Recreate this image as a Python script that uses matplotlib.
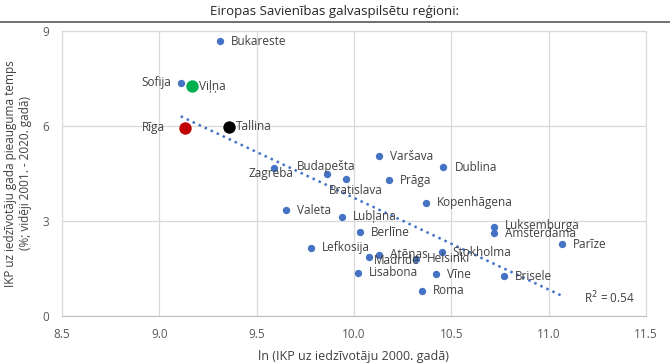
import numpy as np
from matplotlib import pyplot as plt

plt.rcParams['font.family'] = ['Open Sans', 'DejaVu Sans']

cities = ['Bukareste', 'Sofija', 'Viļņa', 'Rīga', 'Tallina', 'Zagreba', 'Budapešta',
          'Bratislava', 'Varšava', 'Dublina', 'Prāga', 'Kopenhāgena', 'Valeta', 'Lubļana',
          'Berlīne', 'Lefkosija', 'Atēnas', 'Madride', 'Helsinki', 'Stokholma', 'Lisabona',
          'Vīne', 'Roma', 'Luksemburga', 'Amsterdama', 'Parīze', 'Brisele']
gdp_2000 = [9.31, 9.11, 9.17, 9.13, 9.36, 9.59, 9.86,
            9.96, 10.13, 10.46, 10.18, 10.37, 9.65, 9.94,
            10.03, 9.78, 10.13, 10.08, 10.32, 10.45, 10.02,
            10.42, 10.35, 10.72, 10.72, 11.07, 10.77]
growth = [8.68, 7.36, 7.26, 5.94, 5.97, 4.68, 4.47,
          4.32, 5.05, 4.69, 4.29, 3.58, 3.34, 3.14,
          2.64, 2.15, 1.94, 1.85, 1.81, 2.01, 1.36,
          1.32, 0.80, 2.82, 2.61, 2.26, 1.26]

highlight = {'Viļņa': '#00B050', 'Rīga': '#C00000', 'Tallina': '#000000'}
# label offsets in points (dx, dy, ha)
label_pos = {'Sofija': (-7, 0, 'right'), 'Rīga': (-14, 0, 'right'),
             'Zagreba': (-2, -4, 'center'), 'Budapešta': (0, 6, 'center'),
             'Bratislava': (7, -8, 'center'), 'Viļņa': (5, 0, 'left'),
             'Tallina': (5, 0, 'left'), 'Madride': (3, -2, 'left'),
             'Luksemburga': (8, 1, 'left')}

fig = plt.figure(figsize=(6.7, 3.63), dpi=100)
ax = fig.add_axes([0.0925, 0.1295, 0.8715, 0.7851])

txt = '#404040'
for c, x, y in zip(cities, gdp_2000, growth):
    if c in highlight:
        ax.scatter(x, y, s=80, color=highlight[c], zorder=4, linewidths=0)
    else:
        ax.scatter(x, y, s=28, color='#4472C4', zorder=4, linewidths=0)
    dx, dy, ha = label_pos.get(c, (8, 0, 'left'))
    ax.annotate(c, (x, y), xytext=(dx, dy), textcoords='offset points',
                ha=ha, va='center', fontsize=8.5, color=txt, zorder=5)

k, b = np.polyfit(gdp_2000, growth, 1)
xs = np.array([min(gdp_2000), max(gdp_2000)])
ax.plot(xs, k * xs + b, linestyle=':', color='#4472C4', linewidth=1.8, zorder=3)
pred = k * np.array(gdp_2000) + b
r2 = 1 - np.sum((np.array(growth) - pred) ** 2) / np.sum((np.array(growth) - np.mean(growth)) ** 2)
ax.text(11.18, 0.58, 'R$^2$ = %.2f' % r2, fontsize=8.5, color=txt, ha='left', va='center')

ax.set_xlim(8.5, 11.5)
ax.set_ylim(0, 9)
ax.set_xticks([8.5, 9.0, 9.5, 10.0, 10.5, 11.0, 11.5])
ax.set_xticklabels(['8.5', '9.0', '9.5', '10.0', '10.5', '11.0', '11.5'])
ax.set_yticks([0, 3, 6, 9])
ax.grid(color='#d9d9d9', linewidth=0.9)
ax.set_axisbelow(True)
for s in ax.spines.values():
    s.set_color('#d9d9d9')
ax.spines['bottom'].set_color('#bfbfbf')
ax.tick_params(length=0, labelsize=8.5, labelcolor='#595959', pad=9)

ax.set_xlabel('ln (IKP uz iedzīvotāju 2000. gadā)', fontsize=9, color=txt, labelpad=6)
ax.set_ylabel('IKP uz iedzīvotāju gada pieauguma temps\n(%; vidēji 2001. - 2020. gadā)',
              fontsize=8.5, color=txt, labelpad=8)

fig.text(0.5, 0.967, 'Eiropas Savienības galvaspilsētu reģioni:', ha='center', va='center',
         fontsize=9.5, color='#262626')
fig.add_artist(plt.Line2D([0, 1], [0.939, 0.939], color='#595959', linewidth=1.2))

plt.savefig('out.png', dpi=100)
